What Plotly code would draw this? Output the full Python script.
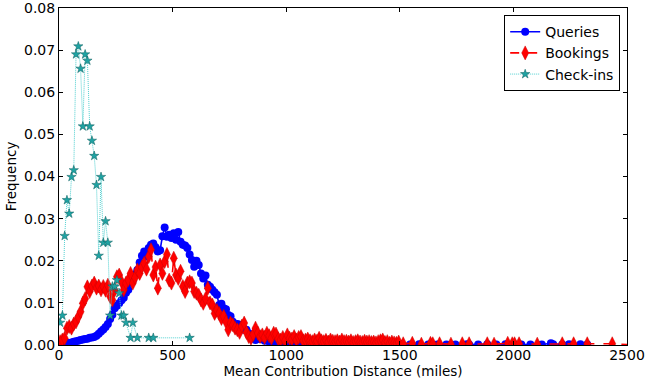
import plotly.graph_objects as go

# ---------------- data (10-mile bins, bin centres) ----------------
# Queries: dense part 5..985
queries_x = [5 + 10 * i for i in range(99)]
queries_y = [
    0.0001, 0.0002, 0.0003, 0.0004, 0.0005, 0.0006, 0.0008, 0.0009, 0.0010, 0.0012,
    0.0013, 0.0014, 0.0015, 0.0017, 0.0018, 0.0019, 0.0022, 0.0027, 0.0032, 0.0037,
    0.0043, 0.0050, 0.0062, 0.0072, 0.0087, 0.0093, 0.0099, 0.0106, 0.0112, 0.0124,
    0.0131, 0.0148, 0.0155, 0.0168, 0.0178, 0.0196, 0.0212, 0.0222, 0.0210, 0.0230,
    0.0238, 0.0241, 0.0232, 0.0222, 0.0225, 0.0258, 0.0279, 0.0257, 0.0262, 0.0254,
    0.0265, 0.0250, 0.0268, 0.0245, 0.0238, 0.0236, 0.0230, 0.0215, 0.0202, 0.0186,
    0.0200, 0.0190, 0.0170, 0.0158, 0.0165, 0.0143, 0.0138, 0.0131, 0.0125, 0.0119,
    0.0095, 0.0098, 0.0087, 0.0085, 0.0071, 0.0068, 0.0055, 0.0048, 0.0050, 0.0048,
    0.0042, 0.0036, 0.0036, 0.0028, 0.0020, 0.0024, 0.0012, 0.0020, 0.0014, 0.0016,
    0.0010, 0.0012, 0.0008, 0.0006, 0.0004, 0.0005, 0.0003, 0.0004, 0.0003,
]
# Queries: tail
queries_tail_x = [
    995, 1005, 1015, 1025, 1035, 1045, 1055, 1065, 1075, 1085,
    1095, 1105, 1115, 1125, 1135, 1145, 1155, 1165, 1175, 1185,
    1195, 1205, 1215, 1225, 1235, 1245, 1255, 1265, 1275, 1285,
    1295, 1305, 1315, 1325, 1335, 1345, 1355, 1365, 1375, 1385,
    1395, 1405, 1435, 1465, 1505, 1545, 1585, 1625, 1665, 1705,
    1745, 1795, 1805, 1845, 1885, 1925, 1965, 2005, 2035, 2075,
    2125, 2165, 2175, 2215, 2245, 2295, 2325,
]
queries_tail_y = [
    0.0004, 0.0003, 0.0005, 0.0002, 0.0004, 0.0003, 0.0002, 0.0004, 0.0003, 0.0003,
    0.0002, 0.0003, 0.0004, 0.0002, 0.0003, 0.0002, 0.0003, 0.0002, 0.0004, 0.0002,
    0.0003, 0.0002, 0.0002, 0.0003, 0.0002, 0.0004, 0.0002, 0.0002, 0.0003, 0.0002,
    0.0002, 0.0003, 0.0002, 0.0002, 0.0001, 0.0002, 0.0003, 0.0002, 0.0004, 0.0002,
    0.0003, 0.0002, 0.0001, 0.0002, 0.0002, 0.0001, 0.0002, 0.0001, 0.0001, 0.0001,
    0.0001, 0.0002, 0.0001, 0.0001, 0.0002, 0.0001, 0.0002, 0.0001, 0.0001, 0.0001,
    0.0001, 0.0004, 0.0002, 0.0001, 0.0002, 0.0002, 0.0001,
]

# Bookings: dense part 5..995
bookings_x = [5 + 10 * i for i in range(100)]
bookings_y = [
    0.0008, 0.0012, 0.0016, 0.0040, 0.0044, 0.0040, 0.0050, 0.0055, 0.0067, 0.0079,
    0.0099, 0.0110, 0.0138, 0.0127, 0.0140, 0.0147, 0.0135, 0.0140, 0.0131, 0.0139,
    0.0130, 0.0142, 0.0115, 0.0107, 0.0130, 0.0162, 0.0166, 0.0150, 0.0131, 0.0147,
    0.0155, 0.0170, 0.0147, 0.0160, 0.0178, 0.0170, 0.0185, 0.0194, 0.0180, 0.0210,
    0.0226, 0.0166, 0.0185, 0.0135, 0.0190, 0.0170, 0.0198, 0.0215, 0.0154, 0.0147,
    0.0206, 0.0166, 0.0158, 0.0175, 0.0139, 0.0127, 0.0147, 0.0150, 0.0147, 0.0127,
    0.0123, 0.0118, 0.0107, 0.0099, 0.0110, 0.0135, 0.0100, 0.0095, 0.0075, 0.0082,
    0.0075, 0.0063, 0.0068, 0.0055, 0.0036, 0.0052, 0.0048, 0.0040, 0.0036, 0.0030,
    0.0045, 0.0052, 0.0030, 0.0020, 0.0016, 0.0025, 0.0040, 0.0028, 0.0020, 0.0024,
    0.0018, 0.0028, 0.0022, 0.0016, 0.0028, 0.0026, 0.0014, 0.0012, 0.0018, 0.0010,
]
# Bookings: tail
bookings_tail_x = [
    1005, 1015, 1025, 1035, 1045, 1055, 1065, 1075, 1085, 1095,
    1105, 1115, 1125, 1135, 1145, 1155, 1165, 1175, 1185, 1195,
    1205, 1215, 1225, 1235, 1245, 1255, 1265, 1275, 1285, 1295,
    1305, 1315, 1325, 1335, 1345, 1355, 1365, 1375, 1385, 1395,
    1405, 1415, 1425, 1435, 1445, 1455, 1465, 1475, 1485, 1495,
    1515, 1555, 1595, 1635, 1645, 1675, 1725, 1775, 1805, 1885,
    1915, 1975, 1995, 2005, 2025, 2105, 2215, 2265, 2325, 2435, 2545,
]
bookings_tail_y = [
    0.0024, 0.0016, 0.0014, 0.0020, 0.0012, 0.0018, 0.0020, 0.0010, 0.0012, 0.0014,
    0.0010, 0.0008, 0.0012, 0.0009, 0.0016, 0.0010, 0.0008, 0.0011, 0.0007, 0.0012,
    0.0009, 0.0008, 0.0010, 0.0007, 0.0012, 0.0008, 0.0009, 0.0007, 0.0010, 0.0006,
    0.0008, 0.0010, 0.0007, 0.0006, 0.0009, 0.0007, 0.0008, 0.0006, 0.0007, 0.0005,
    0.0008, 0.0010, 0.0012, 0.0006, 0.0008, 0.0004, 0.0007, 0.0005, 0.0004, 0.0007,
    0.0003, 0.0004, 0.0002, 0.0004, 0.0003, 0.0003, 0.0002, 0.0003, 0.0003, 0.0003,
    0.0002, 0.0004, 0.0003, 0.0003, 0.0003, 0.0002, 0.0003, 0.0003, 0.0003, 0.0003, 0.0000,
]

# Check-ins
checkins_x = [
    5, 15, 25, 35, 45, 55, 65, 75, 85, 95,
    105, 115, 125, 135, 145, 155, 165, 175, 185, 195,
    205, 215, 225, 235, 245, 255, 265, 275, 285, 295,
    315, 325, 345, 395, 415, 575,
]
checkins_y = [
    0.0053, 0.0070, 0.0259, 0.0344, 0.0312, 0.0399, 0.0415, 0.0690, 0.0709, 0.0656,
    0.0519, 0.0690, 0.0675, 0.0519, 0.0485, 0.0449, 0.0380, 0.0212, 0.0399, 0.0243,
    0.0294, 0.0243, 0.0070, 0.0139, 0.0139, 0.0154, 0.0123, 0.0070, 0.0070, 0.0053,
    0.0017, 0.0053, 0.0017, 0.0017, 0.0017, 0.0017,
]

x_ticks = [0, 500, 1000, 1500, 2000, 2500]
y_ticks = [0.00, 0.01, 0.02, 0.03, 0.04, 0.05, 0.06, 0.07, 0.08]

# ---------------- figure ----------------
fig = go.Figure()
fig.add_trace(go.Scatter(
    x=queries_x + queries_tail_x, y=queries_y + queries_tail_y,
    name="Queries", mode="lines+markers",
    line=dict(color="#0000ff", width=1.6),
    marker=dict(symbol="circle", size=8, color="#0000ff",
                line=dict(color="#0000ff", width=0)),
))
fig.add_trace(go.Scatter(
    x=bookings_x + bookings_tail_x, y=bookings_y + bookings_tail_y,
    name="Bookings", mode="lines+markers",
    line=dict(color="#ff0000", width=1.6, dash="dash"),
    marker=dict(symbol="diamond-tall", size=10, color="#ff0000",
                line=dict(color="#cc0000", width=0.5)),
))
fig.add_trace(go.Scatter(
    x=checkins_x, y=checkins_y,
    name="Check-ins", mode="lines+markers",
    line=dict(color="#4fd0d0", width=1, dash="1px,1px"),
    marker=dict(symbol="star", size=7, color="#1fa3a3",
                line=dict(color="#0b5c5c", width=0.5)),
))

font_family = "DejaVu Sans"
fig.update_layout(
    width=645, height=379,
    margin=dict(l=59, r=18, t=8, b=34),
    paper_bgcolor="white", plot_bgcolor="white",
    font=dict(family=font_family, size=14, color="black"),
    showlegend=True,
    legend=dict(
        x=0.988, y=0.979, xanchor="right", yanchor="top",
        bgcolor="white", bordercolor="black", borderwidth=1,
        font=dict(family=font_family, size=14, color="black"),
        itemwidth=30, tracegroupgap=0,
    ),
)
fig.update_xaxes(
    range=[0, 2500], tickvals=x_ticks, ticktext=[str(v) for v in x_ticks],
    showgrid=False, zeroline=False, automargin=False,
    showline=True, linecolor="black", linewidth=1, mirror="ticks",
    ticks="inside", ticklen=4, tickcolor="black",
    tickfont=dict(size=14), ticklabeloverflow="allow", ticklabelstandoff=-3,
    title=dict(text="Mean Contribution Distance (miles)", font=dict(size=13.5), standoff=0),
)
fig.update_yaxes(
    range=[0, 0.08], tickvals=y_ticks, ticktext=[f"{v:.2f}" for v in y_ticks],
    showgrid=False, zeroline=False, automargin=False,
    showline=True, linecolor="black", linewidth=1, mirror="ticks",
    ticks="inside", ticklen=4, tickcolor="black",
    tickfont=dict(size=14), ticklabeloverflow="allow",
    title=dict(text="Frequency", font=dict(size=13.5), standoff=4),
)

fig.write_html("out.html")
